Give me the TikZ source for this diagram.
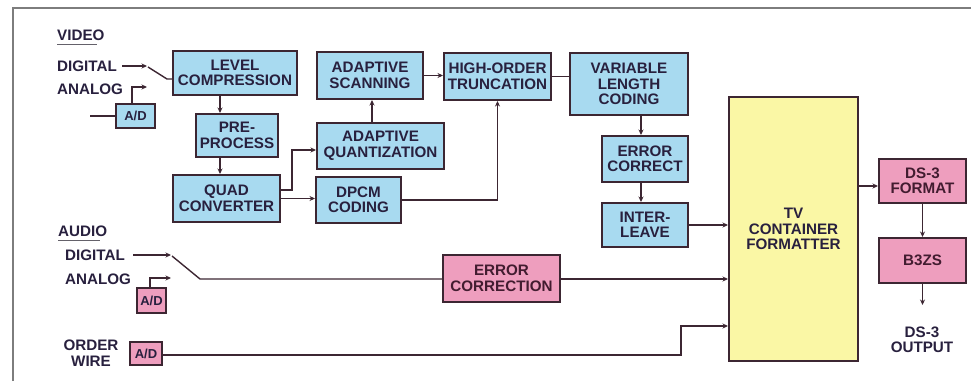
\documentclass[tikz,border=0pt]{standalone}
\usepackage{fontspec}
\setmainfont{Liberation Sans}
\usetikzlibrary{arrows.meta}

\definecolor{linec}{RGB}{60,38,50}
\definecolor{txtc}{RGB}{40,32,62}
\definecolor{ptxt}{RGB}{66,28,48}
\definecolor{blue1}{RGB}{168,218,240}
\definecolor{pink1}{RGB}{238,158,190}
\definecolor{yellow1}{RGB}{250,247,165}
\definecolor{framec}{RGB}{125,125,125}

\newcommand{\bxfont}{\bfseries\fontsize{15.2}{15.5}\selectfont}
\newcommand{\adfont}{\bfseries\fontsize{13}{13}\selectfont}

\tikzset{
  blk/.style={draw=linec, line width=2pt, inner sep=0pt, align=center, font=\bxfont, text=txtc},
  vbox/.style={blk, fill=blue1},
  pbox/.style={blk, fill=pink1, text=ptxt},
  ybox/.style={blk, fill=yellow1},
  adbox/.style={blk, font=\adfont},
  lbl/.style={font=\bxfont, text=txtc, align=center, inner sep=0pt},
  wire/.style={draw=linec, line width=1.4pt},
  arr/.style={wire, -{Stealth[length=5.5pt,width=5pt]}},
  uline/.style={draw=framec!70!txtc, line width=1pt},
}

\begin{document}
\begin{tikzpicture}[x=1pt, y=-1pt]
\useasboundingbox (0,0) rectangle (971,381);

% page frame
\draw[framec, line width=1.5pt] (13,381) -- (13,8) -- (971,8);

% ---- video path ----
\node[lbl, anchor=west] (vid) at (57,35) {VIDEO};
\draw[uline] ([yshift=-4pt]vid.south west) -- ++(40,0);
\node[lbl, anchor=west] (vdig) at (57,66) {DIGITAL};
\node[lbl, anchor=west] (vana) at (57,89) {ANALOG};

\node[vbox, minimum width=124pt, minimum height=44pt] (lc)   at (235,73)    {LEVEL\\COMPRESSION};
\node[vbox, minimum width=82pt,  minimum height=43pt] (pp)   at (237,135.5) {PRE-\\PROCESS};
\node[vbox, minimum width=107pt, minimum height=47pt] (quad) at (226.5,198.5) {QUAD\\CONVERTER};
\node[vbox, minimum width=106pt, minimum height=47pt] (as)   at (370,75.5)  {ADAPTIVE\\SCANNING};
\node[vbox, minimum width=127pt, minimum height=46pt] (aq)   at (380.5,146) {ADAPTIVE\\QUANTIZATION};
\node[vbox, minimum width=85pt,  minimum height=46pt] (dpcm) at (358.5,200) {DPCM\\CODING};
\node[vbox, minimum width=107pt, minimum height=47pt] (hot)  at (497.5,76.5) {HIGH-ORDER\\TRUNCATION};
\node[vbox, minimum width=118pt, minimum height=62pt] (vlc)  at (629,84)    {VARIABLE\\LENGTH\\CODING};
\node[vbox, minimum width=86pt,  minimum height=46pt] (ec)   at (645,159)   {ERROR\\CORRECT};
\node[vbox, minimum width=86pt,  minimum height=44pt] (il)   at (645,225)   {INTER-\\LEAVE};
\node[vbox, adbox, minimum width=39pt, minimum height=24pt] (vad) at (135.5,116) {A/D};

% ---- formatter and output ----
\node[ybox, minimum width=129pt, minimum height=264pt] (tv) at (793.5,229) {TV\\CONTAINER\\FORMATTER};
\node[pbox, minimum width=87pt, minimum height=44pt] (dsf)  at (922.5,181)   {DS-3\\FORMAT};
\node[pbox, minimum width=87pt, minimum height=45pt] (b3zs) at (922.5,260.5) {B3ZS};
\node[lbl] (out) at (922,340) {DS-3\\OUTPUT};
\coordinate (outtip) at (922.5,305);

% ---- audio path ----
\node[lbl, anchor=west] (aud) at (58,231) {AUDIO};
\draw[uline] ([yshift=-4pt]aud.south west) -- ++(42,0);
\node[lbl, anchor=west] (adig) at (65,255) {DIGITAL};
\node[lbl, anchor=west] (aana) at (65,279) {ANALOG};
\node[pbox, adbox, minimum width=29pt, minimum height=25pt] (aad) at (151.5,300.5) {A/D};
\node[pbox, minimum width=117pt, minimum height=47pt] (ecr) at (501.5,278.5) {ERROR\\CORRECTION};

% ---- order wire ----
\node[lbl] (ow) at (91,353) {ORDER\\WIRE};
\node[pbox, adbox, minimum width=32pt, minimum height=23pt] (owad) at (146,353.5) {A/D};

% ---- connectors: video ----
\coordinate (vsw) at (147,66);
\draw[arr] ([xshift=5pt]vdig.east) -- (vsw);
\draw[wire] (148,67) -- (167,79) -- (lc.west |- 0,79);
\draw[wire] (90,116) -- (vad.west);
\draw[arr] ([xshift=-3.5pt]vad.north) |- (147,87);

\draw[arr] (lc.south -| 220,0) -- (pp.north -| 220,0);
\draw[arr] (pp.south -| 220,0) -- (quad.north -| 220,0);
\draw[arr] (quad.east |- 0,190) -- (292,190) |- (aq.west |- 0,150);
\draw[arr] (quad.east) -- (dpcm.west |- quad.east);
\draw[arr] (aq.north -| 372,0) -- (as.south -| 372,0);
\draw[arr] (as.east) -- (hot.west |- as.east);
\draw[arr] (dpcm.east) -| (hot.south);
\draw[wire] (hot.east) -- (vlc.west |- hot.east);
\draw[arr] (vlc.south -| 641,0) -- (ec.north -| 641,0);
\draw[arr] (ec.south -| 641,0) -- (il.north -| 641,0);
\draw[arr] (il.east) -- (tv.west |- il.east);

% ---- connectors: audio and order wire ----
\coordinate (asw) at (171,255);
\draw[arr] ([xshift=8pt]adig.east) -- (asw);
\draw[wire] (172,256) -- (200,279) -- (ecr.west |- 0,279);
\draw[arr] ([xshift=-1.5pt]aad.north) |- (171,278);
\draw[arr] (ecr.east |- 0,279) -- (tv.west |- 0,279);
\draw[arr] (owad.east |- 0,355) -- (681,355) |- (tv.west |- 0,326);

% ---- connectors: output ----
\draw[arr] (tv.east |- 0,186) -- (dsf.west |- 0,186);
\draw[arr] (dsf.south) -- (b3zs.north);
\draw[arr] (b3zs.south) -- (outtip);
\end{tikzpicture}
\end{document}
